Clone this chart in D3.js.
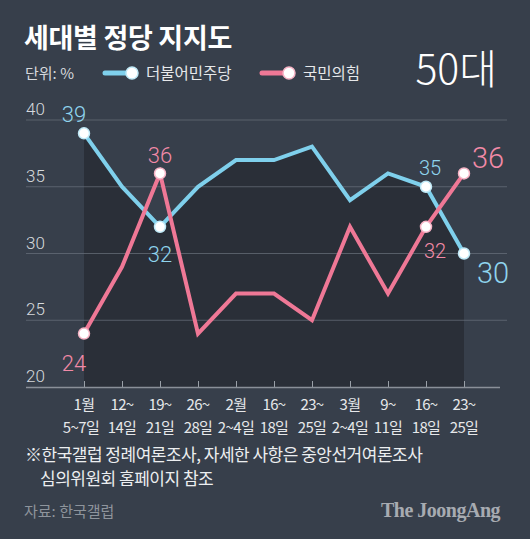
<!DOCTYPE html>
<html><head><meta charset="utf-8">
<script src="https://cdn.jsdelivr.net/npm/d3@7"></script>
<style>
html,body{margin:0;padding:0;background:#373f4b;}
svg{display:block;}
text{font-family:"Noto Sans CJK KR","Noto Sans",sans-serif;}
.num{font-family:Roboto,"Noto Sans",sans-serif;font-weight:300;}
</style></head>
<body>
<svg id="chart" width="530" height="539"></svg>
<script>
const dateTop = ["1월","12~","19~","26~","2월","16~","23~","3월","9~","16~","23~"];
const dateBottom = ["5~7일","14일","21일","28일","2~4일","18일","25일","2~4일","11일","18일","25일"];
const minjoo = [39,35,32,35,37,37,38,34,36,35,30];
const ppp = [24,29,36,24,27,27,25,32,27,32,36];
const yTicks = [20,25,30,35,40];

const W=530,H=539;
const svg=d3.select("#chart");
svg.append("rect").attr("width",W).attr("height",H).attr("fill","#373f4b");

const blue="#7fd0ec", red="#ef7896";
const blueTxt="#8fd4ee", redTxt="#f28aa7";

const x=d3.scaleLinear().domain([0,dateTop.length-1]).range([84,464]);
const y=d3.scaleLinear().domain([20,40]).range([387,120]);

// area under blue line
const area=d3.area().x((d,i)=>x(i)).y0(y(20)).y1(d=>y(d));
svg.append("path").datum(minjoo).attr("d",area).attr("fill","#2a2f38");

// gridlines
svg.append("g").selectAll("line").data(yTicks.filter(v=>v>20)).join("line")
 .attr("x1",26).attr("x2",507).attr("y1",d=>y(d)).attr("y2",d=>y(d))
 .attr("stroke","#6a727d").attr("stroke-width",1).attr("opacity",0.7);

// y labels
svg.append("g").selectAll("text").data(yTicks).join("text").attr("class","num")
 .attr("x",26).attr("y",d=>y(d)-5).text(d=>d)
 .attr("fill","#d6d9dd").attr("font-size",17);

// x axis
const xAxis=d3.axisBottom(x).tickValues(d3.range(dateTop.length)).tickSize(-6).tickFormat("");
const gx=svg.append("g").attr("transform",`translate(0,${y(20)})`).call(xAxis);
gx.select(".domain").remove();
gx.selectAll(".tick line").attr("stroke","#9aa0a8");
svg.append("line").attr("x1",26).attr("x2",500).attr("y1",y(20)+0.5).attr("y2",y(20)+0.5)
 .attr("stroke","#8a9099").attr("stroke-width",1.5);

svg.append("g").selectAll("text").data(dateTop).join("text")
 .attr("x",(d,i)=>x(i)).attr("y",410).attr("text-anchor","middle")
 .attr("fill","#e6e8ea").attr("font-size",15).attr("letter-spacing",-0.6).text(d=>d);
svg.append("g").selectAll("text").data(dateBottom).join("text")
 .attr("x",(d,i)=>x(i)-(i===0?3:0)).attr("y",433).attr("text-anchor","middle")
 .attr("fill","#e6e8ea").attr("font-size",15).attr("letter-spacing",-0.6).text(d=>d);

// lines
const line=d3.line().x((d,i)=>x(i)).y(d=>y(d));
svg.append("path").datum(minjoo).attr("d",line).attr("fill","none").attr("stroke",blue).attr("stroke-width",4).attr("stroke-linejoin","miter");
svg.append("path").datum(ppp).attr("d",line).attr("fill","none").attr("stroke",red).attr("stroke-width",4).attr("stroke-linejoin","miter");

// markers
const blueMarks=[0,2,9,10], redMarks=[0,2,9,10];
svg.append("g").selectAll("circle").data(blueMarks).join("circle")
 .attr("cx",i=>x(i)).attr("cy",i=>y(minjoo[i])).attr("r",5.5)
 .attr("fill","#ffffff").attr("stroke","#bfe9f7").attr("stroke-width",1.5);
svg.append("g").selectAll("circle").data(redMarks).join("circle")
 .attr("cx",i=>x(i)).attr("cy",i=>y(ppp[i])).attr("r",5.5)
 .attr("fill","#ffffff").attr("stroke","#f6b3c5").attr("stroke-width",1.5);

// value labels
const lbl=(i,val,dx,dy,col,size)=>svg.append("text").attr("class","num").attr("x",x(i)+dx).attr("y",y(val)+dy)
 .attr("text-anchor","middle").attr("fill",col).attr("font-size",size).text(val);
lbl(0,minjoo[0],-10,-11,blueTxt,22);
lbl(2,minjoo[2],0,35,blueTxt,22);
lbl(9,minjoo[9],4,-12,blueTxt,20);
svg.append("text").attr("class","num").attr("x",x(10)+13).attr("y",y(minjoo[10])+29).attr("fill",blueTxt)
 .attr("font-size",29).text(minjoo[10]);
lbl(0,ppp[0],-10,37,redTxt,22);
lbl(2,ppp[2],0,-10,redTxt,22);
lbl(9,ppp[9],9,31,redTxt,20);
svg.append("text").attr("class","num").attr("x",x(10)+8).attr("y",y(ppp[10])-5).attr("fill",redTxt)
 .attr("font-size",29).text(ppp[10]);

// title
svg.append("text").attr("x",24).attr("y",48).attr("fill","#ffffff").attr("font-size",27)
 .attr("font-weight",700).attr("letter-spacing",-0.3).text("세대별 정당 지지도");
svg.append("text").attr("x",25).attr("y",79).attr("fill","#d6d9dd").attr("font-size",15).text("단위: %");
// legend
const leg=[{n:"더불어민주당",c:blue,m:"#bfe9f7",x:105},{n:"국민의힘",c:red,m:"#f6b3c5",x:262}];
leg.forEach(l=>{
 svg.append("line").attr("x1",l.x).attr("x2",l.x+26).attr("y1",73).attr("y2",73)
  .attr("stroke",l.c).attr("stroke-width",5).attr("stroke-linecap","round");
 svg.append("circle").attr("cx",l.x+27).attr("cy",73).attr("r",6).attr("fill","#fff").attr("stroke",l.m).attr("stroke-width",1.5);
 svg.append("text").attr("x",l.x+41).attr("y",79).attr("fill","#e6e8ea").attr("font-size",15.5).text(l.n);
});
svg.append("text").attr("x",497).attr("y",84).attr("text-anchor","end").attr("fill","#ffffff")
 .attr("font-size",41).attr("font-weight",300).text("50대");

// footnote
svg.append("text").attr("x",25).attr("y",461).attr("fill","#eceef0").attr("font-size",17).attr("letter-spacing",-0.5)
 .text("※한국갤럽 정례여론조사, 자세한 사항은 중앙선거여론조사");
svg.append("text").attr("x",40).attr("y",485).attr("fill","#eceef0").attr("font-size",17).attr("letter-spacing",-0.5)
 .text("심의위원회 홈페이지 참조");
svg.append("text").attr("x",24).attr("y",517).attr("fill","#8e949c").attr("font-size",15).text("자료: 한국갤럽");
svg.append("text").attr("x",500).attr("y",517).attr("text-anchor","end").attr("fill","#a7abb1")
 .attr("font-size",20).attr("font-weight",700).attr("letter-spacing",-0.5)
 .style("font-family","'Liberation Serif','DejaVu Serif',serif").text("The JoongAng");
</script>
</body></html>
